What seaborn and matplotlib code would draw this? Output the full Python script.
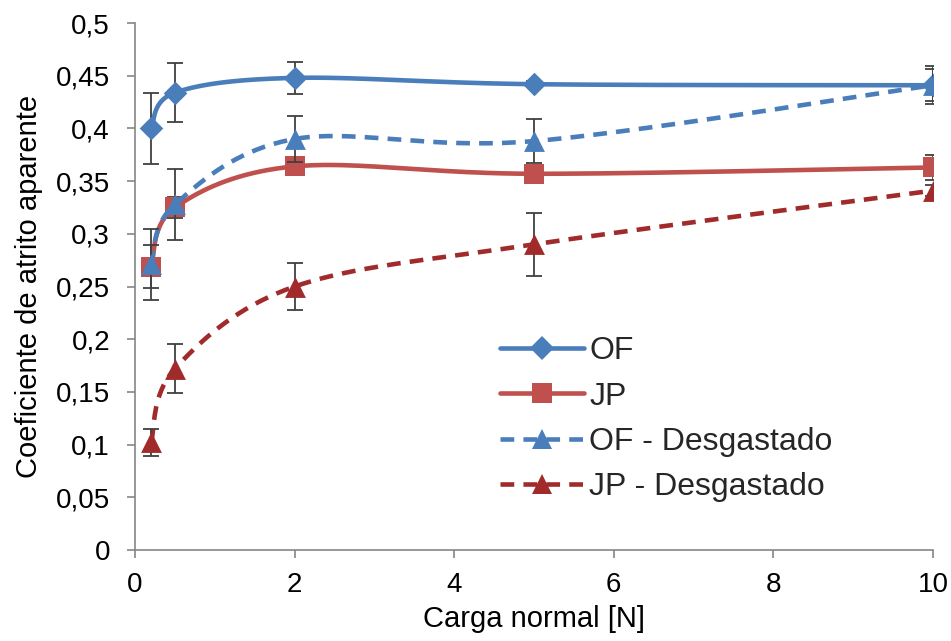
import numpy as np
import pandas as pd
import matplotlib
matplotlib.use("Agg")
import matplotlib.pyplot as plt
from matplotlib.lines import Line2D
from matplotlib.ticker import FuncFormatter
import seaborn as sns

# ----------------------------------------------------------
# DATA
# ----------------------------------------------------------
carga = [0.2, 0.5, 2, 5, 10]

of_mean = [0.400, 0.434, 0.448, 0.442, 0.441]
of_err = [0.034, 0.028, 0.015, 0.003, 0.018]

jp_mean = [0.269, 0.325, 0.364, 0.357, 0.363]
jp_err = [0.020, 0.010, 0.005, 0.005, 0.012]

ofd_mean = [0.271, 0.328, 0.390, 0.388, 0.441]
ofd_err = [0.034, 0.034, 0.022, 0.021, 0.015]

jpd_mean = [0.102, 0.172, 0.250, 0.290, 0.341]
jpd_err = [0.013, 0.023, 0.022, 0.030, 0.005]

series_names = ["OF", "JP", "OF - Desgastado", "JP - Desgastado"]
series_means = [of_mean, jp_mean, ofd_mean, jpd_mean]
series_errs = [of_err, jp_err, ofd_err, jpd_err]

# ----------------------------------------------------------
# STYLE
# ----------------------------------------------------------
sns.set_theme(style="white")
plt.rcParams["font.family"] = ["Liberation Sans", "DejaVu Sans"]

colors = ["#4A7EBB", "#C0504D", "#4A7EBB", "#A12B2B"]
markers = ["D", "s", "^", "^"]
msizes = [12, 15, 15, 15]
dashed = [False, False, True, True]


def excel_smooth(x, y, sx=80.0, sy=1054.0, n=40):
    """Excel-like smoothed line (Catmull-Rom as cubic Bezier) in screen-ish space."""
    P = np.column_stack([np.asarray(x) * sx, np.asarray(y) * sy])
    pts = np.vstack([P[0], P, P[-1]])
    out = []
    t = np.linspace(0, 1, n)[:, None]
    for i in range(1, len(pts) - 2):
        p0, p1, p2, p3 = pts[i - 1], pts[i], pts[i + 1], pts[i + 2]
        c1 = p1 + (p2 - p0) / 6.0
        c2 = p2 - (p3 - p1) / 6.0
        seg = ((1 - t) ** 3) * p1 + 3 * ((1 - t) ** 2) * t * c1 \
            + 3 * (1 - t) * t ** 2 * c2 + t ** 3 * p2
        out.append(seg if i == 1 else seg[1:])
    out = np.vstack(out)
    return out[:, 0] / sx, out[:, 1] / sy


fig, ax = plt.subplots(figsize=(9.51, 6.41), dpi=100)
fig.subplots_adjust(left=0.142, right=0.981, bottom=0.142, top=0.964)

for k, name in enumerate(series_names):
    xs, ys = excel_smooth(carga, series_means[k])
    curve = pd.DataFrame({"x": xs, "y": ys})
    ls = (0, (3, 2)) if dashed[k] else "-"
    sns.lineplot(data=curve, x="x", y="y", ax=ax, color=colors[k], lw=3.3,
                 linestyle=ls, sort=False, estimator=None, zorder=2 + k)
    ax.errorbar(carga, series_means[k], yerr=series_errs[k], fmt="none",
                ecolor="#404040", elinewidth=1.3, capsize=5.5, capthick=1.3,
                zorder=2.5 + k)
    pts = pd.DataFrame({"x": carga, "y": series_means[k]})
    sns.scatterplot(data=pts, x="x", y="y", ax=ax, color=colors[k],
                    marker=markers[k], s=msizes[k] ** 2, linewidth=0,
                    zorder=2.6 + k)

ax.set_xlim(0, 10)
ax.set_ylim(0, 0.5)
ax.set_xticks(np.arange(0, 11, 2))
ax.set_yticks(np.arange(0, 0.501, 0.05))


def comma_fmt(v, pos):
    s = f"{v:.2f}".rstrip("0").rstrip(".")
    return s.replace(".", ",")


ax.yaxis.set_major_formatter(FuncFormatter(comma_fmt))
ax.xaxis.set_major_formatter(FuncFormatter(comma_fmt))

for side in ["top", "right"]:
    ax.spines[side].set_visible(False)
for side in ["left", "bottom"]:
    ax.spines[side].set_color("#868686")
    ax.spines[side].set_linewidth(1.2)

ax.tick_params(axis="both", which="major", direction="out", length=6,
               width=1.2, color="#868686", labelsize=20, labelcolor="#000000",
               left=True, bottom=True)
ax.tick_params(axis="y", pad=12)
ax.tick_params(axis="x", pad=10)

ax.set_xlabel("Carga normal [N]", fontsize=21, color="#000000", labelpad=5)
ax.set_ylabel("Coeficiente de atrito aparente", fontsize=21, color="#000000",
              labelpad=9)

handles = []
for k, name in enumerate(series_names):
    ls = (0, (3, 2)) if dashed[k] else "-"
    handles.append(Line2D([0], [0], color=colors[k], lw=3.3, linestyle=ls,
                          marker=markers[k], markersize=msizes[k],
                          markeredgewidth=0, label=name))

ax.legend(handles=handles, loc="upper left", bbox_to_anchor=(0.441, 0.43),
          borderaxespad=0, frameon=False, fontsize=23, handlelength=2.65,
          handletextpad=0.15, labelspacing=0.48)

fig.savefig("out.png", dpi=100)
